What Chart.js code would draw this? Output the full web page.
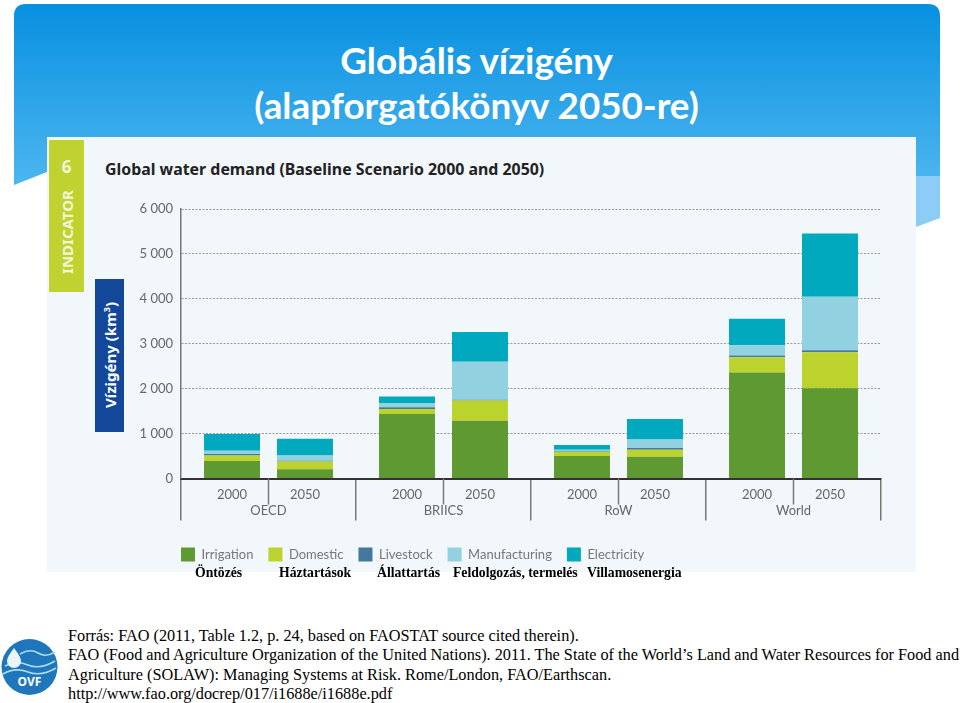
<!DOCTYPE html>
<html lang="hu">
<head>
<meta charset="utf-8">
<title>Globális vízigény</title>
<script src="https://cdn.jsdelivr.net/npm/chart.js@4"></script>
<style>
  html, body { margin: 0; padding: 0; background: #fff; }
  body { position: relative; width: 960px; height: 703px; overflow: hidden; }
  #bg, #logo { position: absolute; }
  #bg { left: 0; top: 0; }
  #logo { left: 0; top: 636px; }
  .slide-title { position: absolute; left: 0; width: 953px; text-align: center; color: #fff;
    font: bold 36.8px Lato, sans-serif; line-height: 44px; }
  #panel { position: absolute; left: 47px; top: 137px; width: 869px; height: 435px; background: #f2f7fb; }
  .band { position: absolute; }
  .rot { position: absolute; color: #fff; font-weight: bold; white-space: nowrap; transform: translate(-50%, -50%) rotate(-90deg); }
  #chart-title { position: absolute; left: 105px; top: 158px; font: bold 15.9px "Noto Sans", sans-serif; color: #222; white-space: nowrap; }
  #chart { position: absolute; left: 47px; top: 137px; }
  .hu { position: absolute; top: 565px; font: bold 13.7px "Liberation Serif", serif; color: #000; white-space: nowrap; }
  #source { position: absolute; left: 68px; top: 627px; font: 16.27px/19.3px "Liberation Serif", serif; color: #000; white-space: nowrap; }
</style>
</head>
<body>

<svg id="bg" width="960" height="240">
  <defs>
    <linearGradient id="sky" x1="0" y1="0" x2="0" y2="1">
      <stop offset="0" stop-color="#0790e0"/>
      <stop offset="1" stop-color="#4db6f0"/>
    </linearGradient>
  </defs>
  <path d="M14 185 V16 Q14 4 26 4 H928 Q940 4 940 16 V176 H916 V172 H47 Z" fill="url(#sky)"/>
  <path d="M916 176 H940 V218 L916 227 Z" fill="#8ccdf7"/>
</svg>

<div class="slide-title" style="top:38px">Globális vízigény</div>
<div class="slide-title" style="top:83px">(alapforgatókönyv 2050-re)</div>

<div id="panel"></div>
<div class="band" style="left:49px;top:140px;width:35px;height:152px;background:#bfd22f"></div>
<div class="band" style="left:95px;top:279px;width:29px;height:153px;background:#12479a"></div>
<div class="rot" style="left:67px;top:232px;font:bold 15px 'Noto Sans',sans-serif;color:#f2f6d8">INDICATOR</div>
<div style="position:absolute;left:49px;top:155px;width:35px;text-align:center;color:#f2f6d8;font:bold 17px 'Noto Sans',sans-serif">6</div>
<div class="rot" style="left:110px;top:355px;font:bold 15px 'Noto Sans',sans-serif">Vízigény (km<sup style="font-size:9px">3</sup>)</div>
<div id="chart-title">Global water demand (Baseline Scenario 2000 and 2050)</div>

<canvas id="chart" width="869" height="445" style="width:869px;height:445px"></canvas>

<div class="hu" style="left:195px">Öntözés</div>
<div class="hu" style="left:279px">Háztartások</div>
<div class="hu" style="left:377px">Állattartás</div>
<div class="hu" style="left:453px">Feldolgozás, termelés</div>
<div class="hu" style="left:587px">Villamosenergia</div>

<div id="source">Forrás: FAO (2011, Table 1.2, p. 24, based on FAOSTAT source cited therein).<br>FAO (Food and Agriculture Organization of the United Nations). 2011. The State of the World’s Land and Water Resources for Food and<br>Agriculture (SOLAW): Managing Systems at Risk. Rome/London, FAO/Earthscan.<br>http://www.fao.org/docrep/017/i1688e/i1688e.pdf</div>

<svg id="logo" width="60" height="62">
  <circle cx="29.5" cy="31" r="28" fill="#1f76bb"/>
  <g fill="none" stroke="#a9dcf2" stroke-width="1.6">
    <path d="M20 18 Q30 12 38 17 T55 16"/>
    <path d="M5 30 Q16 24 28 29 T55 25"/>
    <path d="M3 38 Q15 31 28 36 T56 32"/>
  </g>
  <path d="M14 12 Q21 21 21 25 A7 7 0 0 1 7 25 Q7 21 14 12 Z" fill="#e8f5fb"/>
  <text x="29.5" y="50" text-anchor="middle" font-family="'Noto Sans',sans-serif" font-weight="bold" font-size="12" fill="#fff">OVF</text>
</svg>

<script>
// adatok - km3 / év
const regions = ["OECD", "BRIICS", "RoW", "World"];
const years = ["2000", "2050"];
const seriesNames = ["Irrigation", "Domestic", "Livestock", "Manufacturing", "Electricity"];
const seriesColors = ["#5e9931", "#bdd32d", "#44789c", "#92d1df", "#00a9be"];

const irrigation2000 = [387, 1436, 499, 2359];
const domestic2000 = [126, 112, 89, 342];
const livestock2000 = [30, 37, 15, 37];
const manufacturing2000 = [75, 97, 37, 231];
const electricity2000 = [372, 141, 104, 588];

const irrigation2050 = [208, 1287, 484, 2010];
const domestic2050 = [171, 447, 156, 803];
const livestock2050 = [15, 22, 37, 44];
const manufacturing2050 = [119, 841, 194, 1190];
const electricity2050 = [372, 662, 453, 1406];

const yTickLabels = ["0", "1 000", "2 000", "3 000", "4 000", "5 000", "6 000"];

const values2000 = [irrigation2000, domestic2000, livestock2000, manufacturing2000, electricity2000];
const values2050 = [irrigation2050, domestic2050, livestock2050, manufacturing2050, electricity2050];

function makeDatasets(values, year) {
  return values.map((data, i) => ({
    label: seriesNames[i],
    data: data,
    stack: year,
    backgroundColor: seriesColors[i],
    categoryPercentage: 0.834,
    barPercentage: 0.767,
  }));
}

// évszámok és a rövid elválasztók a tengely alatt
const yearLabels = {
  id: "yearLabels",
  afterDraw(chart) {
    const { ctx, scales, chartArea } = chart;
    ctx.save();
    ctx.font = "13px Lato, sans-serif";
    ctx.fillStyle = "#666";
    ctx.textAlign = "center";
    ctx.textBaseline = "middle";
    regions.forEach((r, i) => {
      ctx.fillText(years[0], chart.getDatasetMeta(0).data[i].x, chartArea.bottom + 16);
      ctx.fillText(years[1], chart.getDatasetMeta(5).data[i].x, chartArea.bottom + 16);
      const x = scales.x.getPixelForValue(i);
      ctx.strokeStyle = "#777";
      ctx.lineWidth = 1.5;
      ctx.beginPath();
      ctx.moveTo(x, chartArea.bottom);
      ctx.lineTo(x, chartArea.bottom + 26);
      ctx.stroke();
    });
    ctx.restore();
  },
};

// a jelmagyarázat a tengely bal szélénél kezdődik
const legendLeft = {
  id: "legendLeft",
  afterLayout(chart) {
    chart.legend.left = chart.chartArea.left - chart.legend.options.labels.padding;
    chart.legend.top += 2;
  },
};

new Chart(document.getElementById("chart"), {
  type: "bar",
  data: {
    labels: regions,
    datasets: makeDatasets(values2000, years[0]).concat(makeDatasets(values2050, years[1])),
  },
  plugins: [yearLabels, legendLeft],
  options: {
    responsive: false,
    animation: false,
    layout: { padding: { left: 90, top: 72, right: 35, bottom: 12.5 } },
    plugins: {
      tooltip: { enabled: false },
      legend: {
        position: "bottom",
        align: "start",
        fullSize: false,
        labels: {
          boxWidth: 14,
          boxHeight: 14,
          padding: 15,
          color: "#777",
          font: { family: "Lato, sans-serif", size: 13 },
          filter: (item) => item.datasetIndex < 5,
        },
      },
    },
    scales: {
      x: {
        stacked: true,
        afterFit(scale) { scale.height = 52; },
        border: { color: "#333", width: 2 },
        grid: { offset: true, drawOnChartArea: false, tickLength: 42, color: "#777", lineWidth: 1.5 },
        ticks: { color: "#666", padding: -17, font: { family: "Lato, sans-serif", size: 13 } },
      },
      y: {
        stacked: true,
        min: 0,
        max: 6000,
        afterFit(scale) { scale.width = 44; },
        border: { color: "#777", width: 1.5, dash: [2, 1.5] },
        grid: {
          drawTicks: false,
          color: (c) => (c.tick.value === 0 ? "transparent" : "#999"),
        },
        ticks: {
          stepSize: 1000,
          padding: 8,
          color: "#666",
          font: { family: "Lato, sans-serif", size: 13 },
          callback: (value, index) => yTickLabels[index],
        },
      },
    },
  },
});
</script>
</body>
</html>
